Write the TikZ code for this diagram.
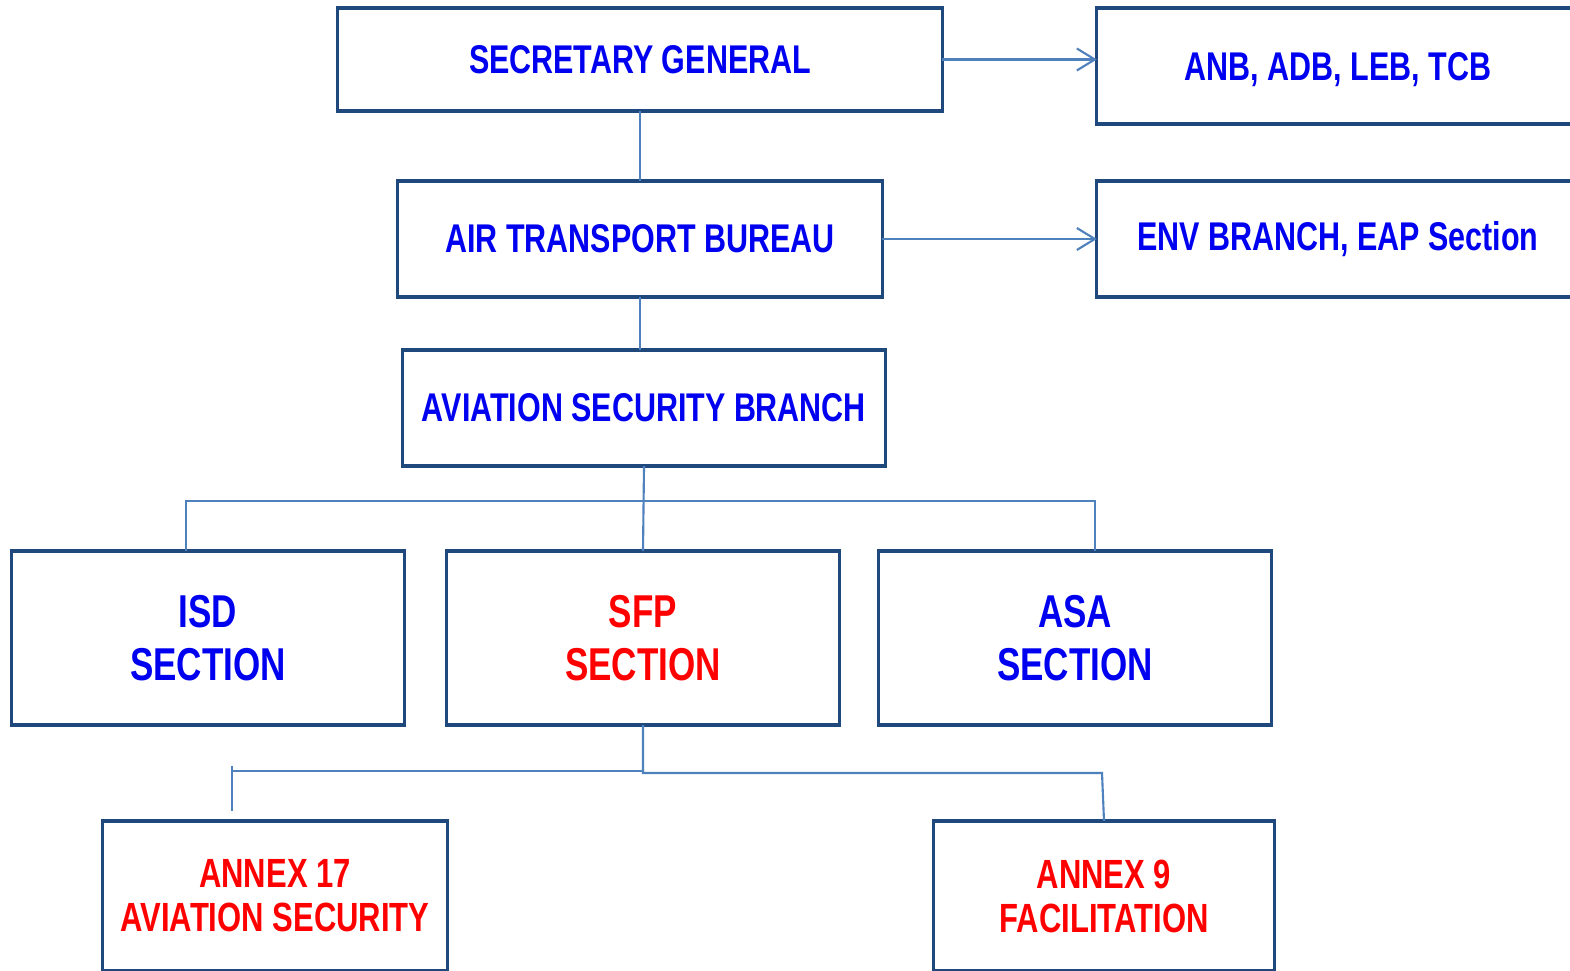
\documentclass[tikz,border=0pt]{standalone}
\usepackage{fontspec}
\usepackage{xcolor}
\usetikzlibrary{arrows.meta, positioning}
\newfontfamily\orgfont{Liberation Sans}[FakeStretch=0.76]

\definecolor{boxline}{HTML}{1F497D}
\definecolor{connline}{HTML}{4F81BD}
\definecolor{textblue}{HTML}{0000F0}
\definecolor{textred}{HTML}{FF0000}

\begin{document}
\begin{tikzpicture}[x=0.01cm, y=-0.01cm,
		box/.style={draw=boxline, line width=0.9pt, inner sep=0pt, outer sep=0pt,
			align=center, text=textblue, font=\orgfont\bfseries\fontsize{11.4}{13}\selectfont},
		bigbox/.style={box, minimum width=3.93cm, minimum height=1.74cm,
			font=\orgfont\bfseries\fontsize{13.1}{15}\selectfont},
		annexbox/.style={box, minimum height=1.5cm, text=textred,
			font=\orgfont\bfseries\fontsize{11.6}{12.5}\selectfont},
		conn/.style={draw=connline, line width=0.6pt},
		arr/.style={conn, -{Straight Barb[length=1.8mm, width=2.2mm]}}
		]
		
		\clip (0,0) rectangle (1570,971);
		\fill[white] (0,0) rectangle (1570,971);
		
		% Top rows
		\node[box, minimum width=6.04cm, minimum height=1.03cm] (secgen) at (640,59.5) {SECRETARY GENERAL};
		\node[box, minimum width=4.82cm, minimum height=1.16cm, text height=0.37cm, text depth=0.07cm] (anb) at (1338,66) {ANB, ADB, LEB, TCB};
		
		\node[box, minimum width=4.84cm, minimum height=1.16cm] (atb) at (640,239) {AIR TRANSPORT BUREAU};
		\node[box, minimum width=4.82cm, minimum height=1.16cm] (env) at (1338,239) {ENV BRANCH, EAP Section};
		
		\node[box, minimum width=4.83cm, minimum height=1.16cm] (asb) at (644,408) {AVIATION SECURITY BRANCH};
		
		% Sections
		\node[bigbox] (isd) at (208,638) {ISD\\ SECTION};
		\node[bigbox, text=textred] (sfp) at (643,638) {SFP\\ SECTION};
		\node[bigbox] (asa) at (1075,638) {ASA\\ SECTION};
		
		% Annexes
		\node[annexbox, minimum width=3.44cm] (annex17) at (275,896) {ANNEX 17\\ AVIATION SECURITY};
		\node[annexbox, minimum width=3.40cm] (annex9) at (1104,896) {ANNEX 9\\ FACILITATION};
		
		% Connectors
		\coordinate (busL) at (186,501);
		\coordinate (busR) at (1095,501);
		\coordinate (jnR) at (1102,773);
		\coordinate (jnL) at (232,771);
		
		\draw[conn] (secgen.south) -- (atb.north);
		\draw[conn] (atb.south) -- (atb.south |- asb.north);
		\draw[conn] (asb.south) -- (sfp.north);
		\draw[conn] (busL |- isd.north) -- (busL) -- (busR) -- (busR |- asa.north);
		\draw[conn] (sfp.south) -- (sfp.south |- jnR) -- (jnR) -- (annex9.north);
		\draw[conn] (jnL) -- (jnL -| sfp.south);
		\draw[conn] ([yshift=0.05cm]jnL) -- ([yshift=-0.4cm]jnL);
		
		\draw[arr] (secgen.east) -- (secgen.east -| anb.west);
		\draw[arr] (atb.east) -- (env.west);
		
	\end{tikzpicture}
\end{document}
